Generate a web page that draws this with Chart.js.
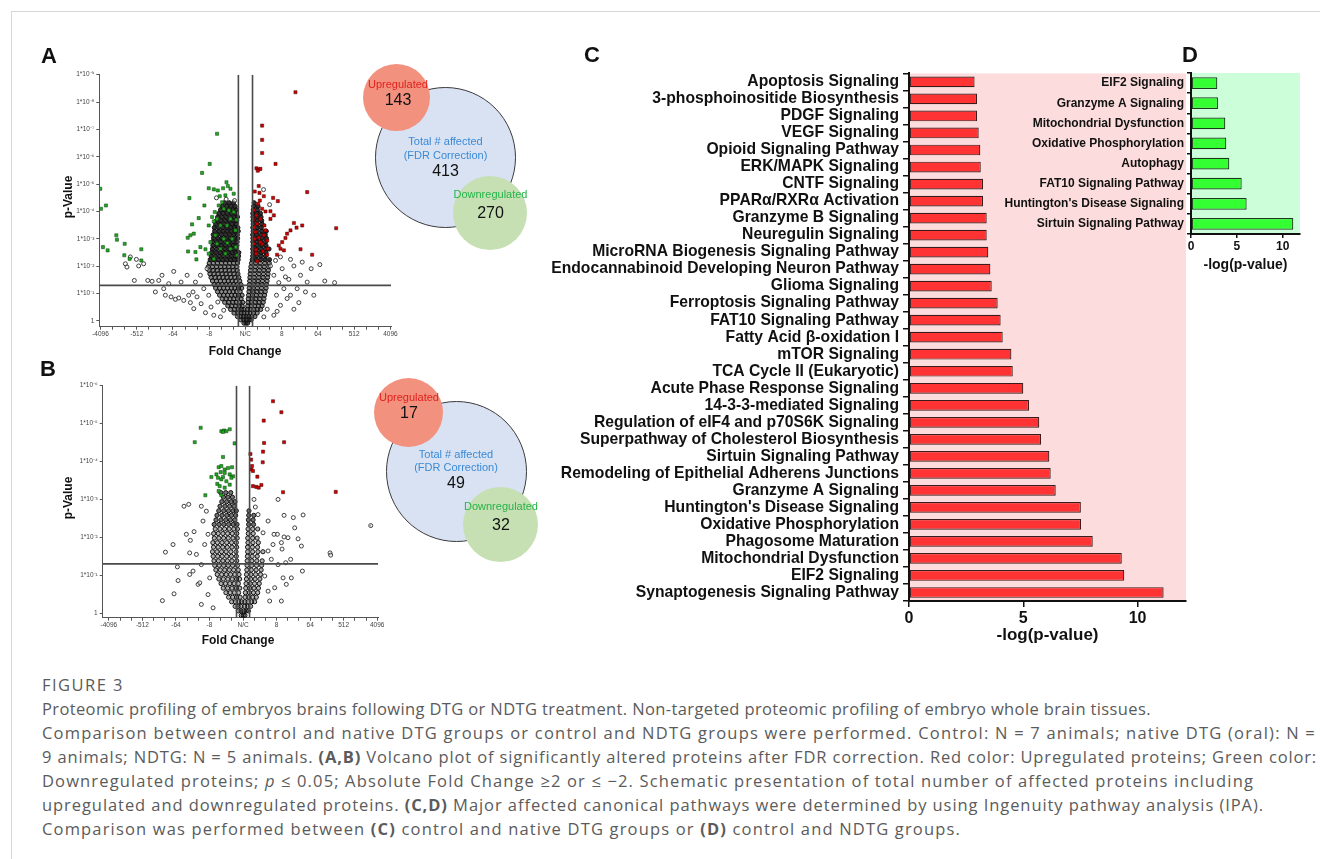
<!DOCTYPE html>
<html>
<head>
<meta charset="utf-8">
<script src="https://cdn.jsdelivr.net/npm/chart.js@4.4.0/dist/chart.umd.min.js"></script>
<style>
  body { margin:0; width:1320px; height:859px; background:#fff; position:relative; overflow:hidden;
         font-family:"Liberation Sans", Arial, sans-serif; }
  .frame { position:absolute; left:11px; top:11px; right:0; bottom:0; border-left:1px solid #d6d6d6; border-top:1px solid #d6d6d6; }
  canvas { position:absolute; }
  .t { position:absolute; transform:translate(-50%,-50%); white-space:nowrap; line-height:1; z-index:5; }
  .lett { font-weight:bold; font-size:22px; color:#111; }
  .ax { font-weight:bold; font-size:12px; color:#111; }
  .circ { position:absolute; border-radius:50%; z-index:4; }
  .sm { font-size:11px; }
  .num { font-size:16px; color:#111; }
  .caption { position:absolute; left:42px; top:673px; font-family:"Open Sans", sans-serif; font-size:16.5px; line-height:24px; color:#5b5b5b; white-space:nowrap; }
  .caption span { display:inline-block; }
</style>
</head>
<body>
<div class="frame"></div>

<canvas id="cA" width="360" height="300" style="left:40px;top:62px"></canvas>
<canvas id="cB" width="360" height="290" style="left:40px;top:372px"></canvas>
<canvas id="cC" width="660" height="600" style="left:540px;top:60px"></canvas>
<canvas id="cD" width="315" height="220" style="left:1000px;top:60px"></canvas>

<div class="t lett" style="left:49px;top:56px">A</div>
<div class="t lett" style="left:48px;top:369px">B</div>
<div class="t lett" style="left:592px;top:55px">C</div>
<div class="t lett" style="left:1190px;top:55px">D</div>

<div class="t ax" style="left:245px;top:351px">Fold Change</div>
<div class="t ax" style="left:68px;top:197px;transform:translate(-50%,-50%) rotate(-90deg)">p-Value</div>
<div class="t ax" style="left:238px;top:640px">Fold Change</div>
<div class="t ax" style="left:68px;top:498px;transform:translate(-50%,-50%) rotate(-90deg)">p-Value</div>

<!-- Venn schematics -->
<div class="circ" style="left:375px;top:87px;width:139px;height:139px;background:#d9e2f3;border:1px solid #3a3a3a"></div>
<div class="circ" style="left:363px;top:64px;width:67px;height:67px;background:#f3917f"></div>
<div class="circ" style="left:453px;top:176px;width:74px;height:74px;background:#c6e0b4"></div>
<div id="vennA"></div>

<div class="circ" style="left:386px;top:401px;width:139px;height:139px;background:#d9e2f3;border:1px solid #3a3a3a"></div>
<div class="circ" style="left:374px;top:378px;width:69px;height:69px;background:#f3917f"></div>
<div class="circ" style="left:463px;top:487px;width:75px;height:75px;background:#c6e0b4"></div>
<div class="circ" style="left:368px;top:524px;width:3px;height:3px;background:#999"></div>
<div id="vennB"></div>

<div class="caption">
<span data-w="82">FIGURE 3</span><br>
<span data-w="1109">Proteomic profiling of embryos brains following DTG or NDTG treatment. Non-targeted proteomic profiling of embryo whole brain tissues.</span><br>
<span data-w="1274">Comparison between control and native DTG groups or control and NDTG groups were performed. Control: N = 7 animals; native DTG (oral): N =</span><br>
<span data-w="1275">9 animals; NDTG: N = 5 animals. <b>(A,B)</b> Volcano plot of significantly altered proteins after FDR correction. Red color: Upregulated proteins; Green color:</span><br>
<span data-w="1212">Downregulated proteins; <i>p</i> ≤ 0.05; Absolute Fold Change ≥2 or ≤ −2. Schematic presentation of total number of affected proteins including</span><br>
<span data-w="1222">upregulated and downregulated proteins. <b>(C,D)</b> Major affected canonical pathways were determined by using Ingenuity pathway analysis (IPA).</span><br>
<span data-w="919">Comparison was performed between <b>(C)</b> control and native DTG groups or <b>(D)</b> control and NDTG groups.</span>
</div>

<script>
// ---- panel C: control vs native DTG, -log(p-value)
var pathwaysC = ['Apoptosis Signaling', '3-phosphoinositide Biosynthesis', 'PDGF Signaling', 'VEGF Signaling',
  'Opioid Signaling Pathway', 'ERK/MAPK Signaling', 'CNTF Signaling', 'PPARα/RXRα Activation', 'Granzyme B Signaling',
  'Neuregulin Signaling', 'MicroRNA Biogenesis Signaling Pathway', 'Endocannabinoid Developing Neuron Pathway',
  'Glioma Signaling', 'Ferroptosis Signaling Pathway', 'FAT10 Signaling Pathway', 'Fatty Acid β-oxidation I',
  'mTOR Signaling', 'TCA Cycle II (Eukaryotic)', 'Acute Phase Response Signaling', '14-3-3-mediated Signaling',
  'Regulation of eIF4 and p70S6K Signaling', 'Superpathway of Cholesterol Biosynthesis', 'Sirtuin Signaling Pathway',
  'Remodeling of Epithelial Adherens Junctions', 'Granzyme A Signaling', "Huntington's Disease Signaling",
  'Oxidative Phosphorylation', 'Phagosome Maturation', 'Mitochondrial Dysfunction', 'EIF2 Signaling',
  'Synaptogenesis Signaling Pathway'];
var valuesC = [2.87, 2.98, 2.98, 3.05, 3.12, 3.14, 3.24, 3.24, 3.40, 3.40, 3.47, 3.56, 3.62, 3.88, 4.01, 4.10,
  4.48, 4.54, 5.00, 5.25, 5.70, 5.78, 6.14, 6.20, 6.42, 7.52, 7.53, 8.04, 9.31, 9.42, 11.14];

// ---- panel D: control vs NDTG
var pathwaysD = ['EIF2 Signaling', 'Granzyme A Signaling', 'Mitochondrial Dysfunction', 'Oxidative Phosphorylation',
  'Autophagy', 'FAT10 Signaling Pathway', "Huntington's Disease Signaling", 'Sirtuin Signaling Pathway'];
var valuesD = [2.87, 2.94, 3.74, 3.85, 4.18, 5.53, 6.07, 11.16];
var scoreTicks = [0, 5, 10];

// ---- venn counts [up, total, down]
var vennA = [143, 413, 270];
var vennB = [17, 49, 32];

// ---- volcano axes (x in log2 fold change units, y in -log10 p)
var foldTickPos = [-12, -9, -6, -3, 0, 3, 6, 9, 12];
var foldTickLabels = ['-4096', '-512', '-64', '-8', 'N/C', '8', '64', '512', '4096'];
var pLabels = ['1', '1*10⁻¹', '1*10⁻²', '1*10⁻³', '1*10⁻⁴', '1*10⁻⁵', '1*10⁻⁶', '1*10⁻⁷', '1*10⁻⁸', '1*10⁻⁹'];
var pCut = 0.05, fcCut = 1.5;

// volcano A points: [log2 fold change, -log10 p]
var upA = [[4.14,8.36],[1.38,7.14],[1.38,6.62],[1.38,6.14],[2.49,5.74],[0.91,5.58],[1.1,5.54],[1.24,5.56],[1.02,5.49],
  [5.11,4.71],[1.1,4.93],[0.77,4.73],[1.16,4.68],[1.52,4.56],[2.29,4.5],[2.68,4.38],[1.05,4.28],[1.38,4.1],[1.66,4.0],
  [2.07,4.01],[0.91,3.86],[1.24,3.73],[1.57,3.49],[0.97,3.55],[0.83,3.25],[4.01,3.58],[4.23,3.41],[4.7,3.49],[7.51,3.39],
  [3.73,3.31],[3.45,3.19],[3.31,3.03],[3.04,2.88],[2.76,2.76],[2.9,2.64],[3.18,2.58],[2.62,2.42],[4.56,2.62],[5.52,2.42],
  [1.8,2.42],[1.85,2.64],[1.38,2.82],[1.52,3.13],[1.24,2.88],[1.66,3.31],[1.8,2.94],[0.97,2.18],[0.69,2.82],[0.77,3.0],
  [1.19,4.4],[0.64,3.71],[2.07,3.73],[2.35,3.86],[0.88,2.46],[0.72,3.42],[1.1,3.05],[0.86,2.6],[1.45,2.55],[0.7,4.05]];
var downA = [[-12.02,4.83],[-11.55,4.22],[-11.96,4.1],[-10.69,3.13],[-10.64,2.97],[-10.0,2.82],[-11.8,2.7],[-11.41,2.58],
  [-10.03,2.4],[-9.59,2.27],[-8.62,2.62],[-8.62,2.21],[-2.35,6.84],[-2.96,5.74],[-3.59,5.41],[-4.64,4.49],[-1.57,5.07],
  [-3.04,4.85],[-2.62,4.81],[-2.29,4.77],[-1.85,4.85],[-1.46,4.93],[-1.24,4.83],[-2.13,4.56],[-1.66,4.59],[-0.97,4.65],
  [-3.4,4.22],[-3.87,3.76],[-4.42,3.53],[-3.04,3.49],[-2.76,3.8],[-2.54,3.98],[-2.35,3.73],[-4.78,3.04],[-4.28,3.19],
  [-4.56,3.13],[-4.75,2.54],[-4.14,2.52],[-3.73,2.7],[-4.06,2.25],[-3.04,2.46],[-3.31,2.62],[-2.62,3.64],[-2.07,3.49],
  [-1.52,3.49],[-1.24,3.73],[-0.97,3.98],[-1.38,4.04],[-1.8,4.1],[-2.21,4.22],[-1.93,4.34],[-2.49,3.13],[-2.35,2.82],
  [-1.8,3.0],[-0.83,3.31],[-1.1,3.0],[-2.07,2.64],[-1.66,2.46],[-2.62,2.27],[-1.24,2.64],[-0.69,2.4],[-2.9,2.88],
  [-0.75,3.7],[-1.5,2.85],[-0.8,2.7]];
var otherA = [[-9.94,2.09],[-9.81,1.97],[-9.53,2.34],[-9.03,2.25],[-9.2,1.48],[-8.84,2.01],[-8.43,2.09],[-8.09,1.48],
  [-7.73,1.45],[-7.46,1.06],[-7.18,1.48],[-6.91,1.67],[-6.77,1.18],[-6.63,0.94],[-6.35,1.36],[-6.16,0.88],[-5.94,1.81],
  [-5.8,0.79],[-5.52,0.84],[-5.33,1.42],[-5.11,0.75],[-4.83,1.67],[-4.7,0.94],[-4.56,0.67],[-4.34,1.06],[-4.28,0.45],
  [-4.14,1.42],[-4.01,0.88],[-3.73,1.67],[-3.67,0.63],[-3.45,1.18],[-3.31,0.3],[-3.18,1.91],[-3.04,0.94],[-2.85,0.51],
  [-2.62,0.21],[-2.07,0.15],[-1.8,0.39],[-2.29,0.69],
  [2.07,2.01],[2.35,1.67],[2.57,0.94],[2.76,1.4],[2.9,0.57],[3.04,1.91],[3.18,1.18],[3.31,1.61],[3.45,0.82],[3.59,1.52],
  [3.73,0.94],[4.01,0.43],[4.28,1.18],[4.42,0.67],[4.56,1.67],[4.7,2.15],[4.97,1.06],[5.11,1.42],[5.44,1.91],[5.66,0.94],
  [6.16,2.06],[6.57,1.46],[7.38,1.4],[3.73,2.25],[4.01,2.01],[2.35,0.21],[1.8,0.43],[2.62,0.35],[1.52,0.15],[2.49,2.21],
  [2.9,2.34],[-1.6,4.45],[-2.4,4.5],[-0.9,4.4],[1.5,4.8],[2.0,4.25]];
// dense core of A, rows of [-log10 p, [log2 fold changes]]
var coreA = [
  [-0.08, [-0.12, 0.05, 0.18]],
  [0.04, [-0.38, -0.14, 0.08, 0.3, 0.47]],
  [0.16, [-0.66, -0.41, -0.17, 0.06, 0.28, 0.52, 0.78]],
  [0.29, [-0.95, -0.62, -0.36, -0.12, 0.14, 0.39, 0.66, 0.97]],
  [0.42, [-1.23, -0.91, -0.6, -0.33, -0.13, 0.17, 0.42, 0.7, 0.98, 1.26]],
  [0.55, [-1.46, -1.13, -0.82, -0.52, -0.27, 0.19, 0.47, 0.76, 1.07, 1.38]],
  [0.68, [-1.72, -1.38, -1.05, -0.76, -0.47, -0.22, 0.21, 0.5, 0.81, 1.12, 1.47]],
  [0.81, [-1.93, -1.6, -1.28, -0.97, -0.66, -0.36, 0.23, 0.55, 0.86, 1.18, 1.53]],
  [0.94, [-2.14, -1.8, -1.47, -1.16, -0.86, -0.57, -0.28, 0.26, 0.58, 0.9, 1.24, 1.58]],
  [1.07, [-2.31, -1.98, -1.66, -1.33, -1.02, -0.73, -0.44, 0.29, 0.62, 0.95, 1.28, 1.64]],
  [1.2, [-2.47, -2.13, -1.81, -1.49, -1.17, -0.87, -0.58, -0.31, 0.31, 0.64, 0.99, 1.33, 1.71]],
  [1.33, [-2.6, -2.27, -1.94, -1.61, -1.3, -0.99, -0.68, -0.38, 0.33, 0.67, 1.02, 1.37, 1.74]],
  [1.46, [-2.73, -2.4, -2.07, -1.74, -1.42, -1.1, -0.79, -0.47, 0.35, 0.7, 1.05, 1.41, 1.79]],
  [1.59, [-2.85, -2.51, -2.18, -1.85, -1.53, -1.2, -0.88, -0.55, 0.37, 0.72, 1.09, 1.46, 1.83]],
  [1.72, [-2.94, -2.6, -2.27, -1.93, -1.61, -1.28, -0.95, -0.62, 0.39, 0.75, 1.12, 1.49, 1.87]],
  [1.85, [-3.02, -2.68, -2.34, -2.0, -1.67, -1.34, -1.01, -0.68, 0.42, 0.78, 1.15, 1.52, 1.9]],
  [1.98, [-3.08, -2.73, -2.39, -2.05, -1.72, -1.38, -1.05, -0.71, 0.45, 0.82, 1.19, 1.56, 1.93]],
  [2.11, [-3.0, -2.66, -2.32, -1.98, -1.64, -1.31, -0.98, -0.66, 0.5, 0.86, 1.23, 1.6, 1.97]],
  [2.24, [-2.92, -2.58, -2.24, -1.9, -1.56, -1.23, -0.91, -0.6, 0.56, 0.9, 1.26, 1.63, 1.99]],
  [2.37, [-2.84, -2.5, -2.16, -1.83, -1.49, -1.16, -0.85, -0.57, 0.6, 0.93, 1.29, 1.66]],
  [2.5, [-2.79, -2.44, -2.1, -1.76, -1.43, -1.11, -0.8, -0.55, 0.62, 0.96, 1.32, 1.69]],
  [2.63, [-2.74, -2.4, -2.05, -1.71, -1.38, -1.06, -0.76, 0.6, 0.93, 1.28, 1.64, 1.95]],
  [2.76, [-2.7, -2.35, -2.01, -1.67, -1.33, -1.01, -0.71, 0.63, 0.97, 1.33, 1.7]],
  [2.89, [-2.72, -2.37, -2.02, -1.68, -1.35, -1.02, -0.69, 0.61, 0.95, 1.3, 1.66]],
  [3.02, [-2.64, -2.29, -1.95, -1.61, -1.28, -0.96, -0.65, 0.62, 0.98, 1.35, 1.73]],
  [3.15, [-2.67, -2.32, -1.97, -1.63, -1.3, -0.98, -0.67, 0.6, 0.93, 1.29, 1.64]],
  [3.28, [-2.55, -2.2, -1.86, -1.52, -1.19, -0.87, -0.6, 0.64, 0.99, 1.36, 1.72]],
  [3.41, [-2.58, -2.23, -1.88, -1.54, -1.21, -0.9, -0.63, 0.61, 0.95, 1.31]],
  [3.54, [-2.47, -2.12, -1.77, -1.43, -1.1, -0.8, 0.64, 1.0, 1.38]],
  [3.67, [-2.39, -2.04, -1.7, -1.36, -1.03, -0.73, 0.63, 0.98, 1.34]],
  [3.8, [-2.3, -1.95, -1.61, -1.27, -0.95, -0.66, 0.62, 0.96, 1.29]],
  [3.93, [-2.2, -1.86, -1.52, -1.18, -0.86, 0.61, 0.93, 1.24]],
  [4.06, [-2.06, -1.72, -1.38, -1.05, -0.74, 0.65, 0.99]],
  [4.19, [-1.91, -1.55, -1.2, -0.86, 0.68, 1.04]],
  [4.32, [-1.72, -1.34, -0.98, 0.72]]
];

// volcano B points
var upB = [[2.68,5.59],[3.43,5.3],[1.85,5.08],[1.88,4.49],[3.67,4.51],[0.66,4.2],[1.79,4.26],[0.72,4.05],[1.76,3.98],
  [0.8,3.88],[0.75,3.79],[0.89,3.75],[1.28,3.6],[0.89,3.35],[1.19,3.33],[1.64,3.38],[1.4,3.31],[3.58,3.19],[8.29,3.2]];
var downB = [[-3.79,4.89],[-4.32,4.51],[-1.94,4.8],[-1.7,4.82],[-1.49,4.8],[-1.19,4.85],[-1.79,4.78],[-0.75,4.48],
  [-1.79,4.12],[-2.18,3.85],[-1.94,3.88],[-1.64,3.79],[-1.34,3.83],[-0.98,3.85],[-2.0,3.72],[-1.64,3.7],[-1.19,3.66],
  [-0.89,3.61],[-1.79,3.59],[-2.83,3.59],[-2.24,3.57],[-2.38,3.66],[-1.94,3.53],[-1.49,3.48],[-1.04,3.57],[-2.3,3.41],
  [-2.09,3.35],[-1.64,3.31],[-2.18,3.22],[-3.37,3.11],[-1.94,3.11],[-1.19,3.39]];
var otherB = [[-7.21,0.33],[-6.17,0.51],[-5.87,1.22],[-5.81,0.86],[-6.26,1.81],[-6.94,1.61],[-4.77,1.59],[-4.71,1.92],
  [-4.38,2.15],[-4.77,1.02],[-4.02,0.76],[-3.87,0.8],[-5.28,2.82],[-4.86,2.87],[-5.07,2.08],[-4.17,1.55],[-3.73,1.28],
  [-4.47,1.11],[-3.43,1.81],[-3.13,2.08],[-3.58,2.43],[-3.73,2.82],[-3.28,2.69],[-3.13,0.49],[-3.73,0.23],[-2.68,0.14],
  [-2.98,0.93],
  [11.42,2.31],[7.78,1.59],[7.84,1.53],[5.37,2.59],[4.5,2.52],[3.67,2.58],[4.26,1.42],[5.22,1.77],[5.31,1.11],[4.92,1.96],
  [4.62,2.25],[4.02,1.99],[3.67,2.01],[3.43,1.86],[3.49,1.69],[3.13,3.0],[3.07,2.08],[2.77,2.08],[2.68,1.81],[3.82,1.33],
  [3.58,0.93],[4.32,0.93],[3.87,0.76],[3.13,1.28],[2.24,1.64],[1.79,2.12],[2.83,0.67],[3.43,0.32],[2.38,0.32],[2.24,0.58],
  [1.94,0.98],[2.53,1.42],[1.1,2.8],[1.34,2.6],[2.24,2.43],[0.98,3.0]];
var coreB = [
  [-0.06, [-0.16, 0.02, 0.17]],
  [0.06, [-0.42, -0.18, 0.06, 0.29, 0.48]],
  [0.18, [-0.71, -0.44, -0.19, 0.14, 0.41, 0.68]],
  [0.3, [-1.02, -0.69, -0.38, -0.13, 0.16, 0.45, 0.76, 1.04]],
  [0.42, [-1.29, -0.93, -0.58, -0.26, 0.19, 0.52, 0.86, 1.19]],
  [0.54, [-1.53, -1.15, -0.77, -0.4, 0.21, 0.56, 0.93, 1.31]],
  [0.66, [-1.77, -1.38, -0.99, -0.61, -0.29, 0.24, 0.6, 0.98, 1.38]],
  [0.78, [-1.96, -1.57, -1.18, -0.8, -0.42, 0.27, 0.64, 1.03, 1.45]],
  [0.9, [-2.16, -1.76, -1.36, -0.97, -0.59, -0.3, 0.3, 0.68, 1.08, 1.51]],
  [1.02, [-2.31, -1.91, -1.51, -1.12, -0.74, -0.36, 0.31, 0.7, 1.12, 1.56]],
  [1.14, [-2.43, -2.03, -1.63, -1.23, -0.84, -0.43, 0.34, 0.74, 1.17, 1.62]],
  [1.26, [-2.53, -2.13, -1.73, -1.33, -0.93, -0.5, 0.36, 0.77, 1.21, 1.66]],
  [1.38, [-2.6, -2.2, -1.8, -1.4, -0.99, -0.56, 0.37, 0.79, 1.23, 1.71]],
  [1.5, [-2.67, -2.27, -1.87, -1.46, -1.04, -0.6, 0.39, 0.82, 1.27]],
  [1.62, [-2.73, -2.33, -1.92, -1.51, -1.09, -0.63, 0.41, 0.86, 1.33, 1.78]],
  [1.74, [-2.64, -2.23, -1.82, -1.41, -0.99, -0.57, 0.4, 0.84, 1.3]],
  [1.86, [-2.7, -2.29, -1.88, -1.46, -1.03, -0.6, 0.44, 0.89, 1.37]],
  [1.98, [-2.57, -2.16, -1.74, -1.32, -0.9, -0.52, 0.42, 0.86, 1.26]],
  [2.1, [-2.63, -2.22, -1.8, -1.38, -0.96, -0.56, 0.47, 0.91]],
  [2.22, [-2.49, -2.07, -1.65, -1.24, -0.83, -0.5, 0.45, 0.87, 1.31]],
  [2.34, [-2.58, -2.15, -1.72, -1.29, -0.87, -0.54, 0.5, 0.94]],
  [2.46, [-2.42, -1.98, -1.55, -1.13, -0.74, 0.48, 0.9]],
  [2.58, [-2.33, -1.88, -1.45, -1.04, -0.66, 0.51, 0.96]],
  [2.7, [-2.17, -1.73, -1.3, -0.9, -0.6, 0.53]],
  [2.82, [-2.06, -1.62, -1.2, -0.8]],
  [2.94, [-1.9, -1.47, -1.06, -0.72]],
  [3.06, [-1.75, -1.35, -0.95]],
  [3.18, [-2.0, -1.55, -1.1]]
];

var F = '"Liberation Sans", Arial, sans-serif';

// fill the plot area (pink / green panels)
var areaBg = {
  id: 'areaBg',
  beforeDraw: function(chart, args, opts) {
    var a = chart.chartArea, c = chart.ctx;
    c.save();
    c.fillStyle = opts.color;
    c.fillRect(a.left, a.top, a.right - a.left, a.bottom - a.top);
    c.restore();
  }
};

function toPts(arr) {
  return arr.map(function(p) { return {x: p[0], y: p[1]}; });
}
function rowsToPts(rows) {
  var out = [];
  rows.forEach(function(r) { r[1].forEach(function(x) { out.push({x: x, y: r[0]}); }); });
  return out;
}

function volcano(id, up, down, other, core, xr, yr, yMaxTick, pad, yW, xH, darkFrom, shade) {
  var cutY = -Math.log10(pCut), cutX = Math.log2(fcCut);
  var minor = [];
  for (var i = -12; i <= 12; i++) minor.push(i);
  var yt = [];
  for (var j = 0; j <= yMaxTick; j++) yt.push(j);
  var line = {showLine: true, borderColor: '#4a4a4a', borderWidth: 1.6, pointRadius: 0};
  return new Chart(document.getElementById(id).getContext('2d'), {
    type: 'scatter',
    data: {
      datasets: [
        Object.assign({data: [{x: xr[0], y: cutY}, {x: xr[1], y: cutY}]}, line),
        Object.assign({data: [{x: -cutX, y: yr[0]}, {x: -cutX, y: yr[1]}]}, line),
        Object.assign({data: [{x: cutX, y: yr[0]}, {x: cutX, y: yr[1]}]}, line),
        {data: toPts(up), pointStyle: 'rect', pointRadius: 2.2, backgroundColor: '#d40000', borderColor: '#3a0000', borderWidth: 0.5},
        {data: toPts(down), pointStyle: 'rect', pointRadius: 2.2, backgroundColor: '#22a822', borderColor: '#0b3a0b', borderWidth: 0.5},
        {data: toPts(other), pointRadius: 2.0, borderWidth: 0.9, borderColor: '#2b2b2b', backgroundColor: 'rgba(255,255,255,0.5)'},
        {data: rowsToPts(core), pointRadius: 2.1, borderWidth: 1.0, borderColor: '#111',
         backgroundColor: function(c) {
           return c.raw && c.raw.y > darkFrom ? 'rgba(0,0,0,' + shade[1] + ')' : 'rgba(0,0,0,' + shade[0] + ')';
         }}
      ]
    },
    options: {
      responsive: false,
      animation: false,
      layout: {padding: pad},
      plugins: {legend: {display: false}, tooltip: {enabled: false}},
      scales: {
        x: {
          type: 'linear', min: xr[0], max: xr[1],
          afterBuildTicks: function(s) { s.ticks = minor.map(function(v) { return {value: v}; }); },
          afterFit: function(s) { s.height = xH; },
          ticks: {
            autoSkip: false, maxRotation: 0, padding: 1, color: '#444', font: {size: 6.5, family: F},
            callback: function(v) { var k = foldTickPos.indexOf(v); return k < 0 ? '' : foldTickLabels[k]; }
          },
          grid: {drawOnChartArea: false, drawTicks: true, tickLength: 3, color: '#555'},
          border: {color: '#555', width: 1}
        },
        y: {
          type: 'linear', min: yr[0], max: yr[1],
          afterBuildTicks: function(s) { s.ticks = yt.map(function(v) { return {value: v}; }); },
          afterFit: function(s) { s.width = yW; },
          ticks: {
            autoSkip: false, padding: 2, color: '#444', font: {size: 6.5, family: F},
            callback: function(v) { return pLabels[v]; }
          },
          grid: {drawOnChartArea: false, drawTicks: true, tickLength: 3, color: '#555'},
          border: {color: '#555', width: 1}
        }
      }
    }
  });
}

volcano('cA', upA, downA, otherA, coreA, [-12.1, 12.05], [-0.21, 9], 9,
  {left: 0, top: 12.7, right: 9, bottom: 0}, 59.3, 35.3, 2.2, [0.45, 0.8]);
volcano('cB', upB, downB, otherB, coreB, [-12.55, 12.07], [-0.12, 6], 6,
  {left: 0, top: 13.7, right: 22, bottom: 0}, 62.7, 44.3, 2.3, [0.3, 0.55]);

function pathwayChart(id, labels, values, opt) {
  return new Chart(document.getElementById(id).getContext('2d'), {
    type: 'bar',
    data: {
      labels: labels,
      datasets: [{
        data: values,
        backgroundColor: opt.bar,
        borderColor: opt.edge,
        borderWidth: 1.2,
        borderSkipped: false,
        barPercentage: opt.barPct,
        categoryPercentage: 1
      }]
    },
    options: {
      indexAxis: 'y',
      responsive: false,
      animation: false,
      layout: {padding: opt.pad},
      plugins: {legend: {display: false}, tooltip: {enabled: false}, areaBg: {color: opt.bg}},
      scales: {
        x: {
          min: 0, max: opt.xMax,
          afterBuildTicks: function(s) { s.ticks = scoreTicks.map(function(v) { return {value: v}; }); },
          afterFit: function(s) { s.height = opt.xH; },
          ticks: {color: '#111', padding: opt.tickPad, font: {size: opt.tickSize, weight: 'bold', family: F}},
          grid: {drawOnChartArea: false, tickLength: opt.tickLen, color: '#111', lineWidth: 1.5},
          border: {color: '#111', width: 2},
          title: {display: true, text: '-log(p-value)', color: '#111',
                  font: {size: opt.titleSize, weight: 'bold', family: F}, padding: {top: 0, bottom: opt.titlePad}}
        },
        y: {
          afterFit: function(s) { s.width = opt.yW; },
          ticks: {autoSkip: false, color: '#111', padding: opt.labelPad, font: {size: opt.labelSize, weight: 'bold', family: F}},
          grid: {drawOnChartArea: false, tickLength: opt.tickLen, color: '#111', lineWidth: 1.5},
          border: {color: '#111', width: 2}
        }
      }
    },
    plugins: [areaBg]
  });
}

pathwayChart('cC', pathwaysC, valuesC, {
  bar: '#ff3333', edge: '#3a1c1c', bg: '#fcdcdc', barPct: 0.63, xMax: 12.12,
  pad: {left: 0, top: 10, right: 14, bottom: 0}, xH: 59, yW: 369,
  tickSize: 16, tickPad: 2, tickLen: 6, titleSize: 17, titlePad: 14, labelSize: 15.7, labelPad: 4
});
pathwayChart('cD', pathwaysD, valuesD, {
  bar: '#33ff33', edge: '#1d3a1d', bg: '#ccffd9', barPct: 0.58, xMax: 11.89,
  pad: {left: 0, top: 13, right: 15, bottom: 0}, xH: 46, yW: 191,
  tickSize: 12, tickPad: 1, tickLen: 4, titleSize: 14, titlePad: 6, labelSize: 12, labelPad: 3
});

// venn labels
function vennText(el, counts, pos) {
  var html = '';
  html += '<div class="t sm" style="left:' + pos.up[0] + 'px;top:' + pos.up[1] + 'px;color:#e0211d">Upregulated</div>';
  html += '<div class="t num" style="left:' + pos.up[0] + 'px;top:' + (pos.up[1] + 16) + 'px">' + counts[0] + '</div>';
  html += '<div class="t sm" style="left:' + pos.tot[0] + 'px;top:' + pos.tot[1] + 'px;color:#3a8ad6">Total # affected</div>';
  html += '<div class="t sm" style="left:' + pos.tot[0] + 'px;top:' + (pos.tot[1] + 13.5) + 'px;color:#3a8ad6">(FDR Correction)</div>';
  html += '<div class="t num" style="left:' + pos.tot[0] + 'px;top:' + (pos.tot[1] + 29.5) + 'px">' + counts[1] + '</div>';
  html += '<div class="t sm" style="left:' + pos.dn[0] + 'px;top:' + pos.dn[1] + 'px;color:#27b34a">Downregulated</div>';
  html += '<div class="t num" style="left:' + pos.dn[0] + 'px;top:' + (pos.dn[1] + 18.5) + 'px">' + counts[2] + '</div>';
  document.getElementById(el).innerHTML = html;
}
vennText('vennA', vennA, {up: [398, 84], tot: [445.5, 141], dn: [490.5, 194]});
vennText('vennB', vennB, {up: [409, 396.5], tot: [456, 453.5], dn: [501, 506]});

// stretch each caption line to the width it has in the figure
Array.prototype.forEach.call(document.querySelectorAll('.caption span'), function(s) {
  var want = +s.getAttribute('data-w');
  var n = s.textContent.length;
  var have = s.getBoundingClientRect().width;
  s.style.letterSpacing = ((want - have) / n).toFixed(3) + 'px';
});
</script>
</body>
</html>
